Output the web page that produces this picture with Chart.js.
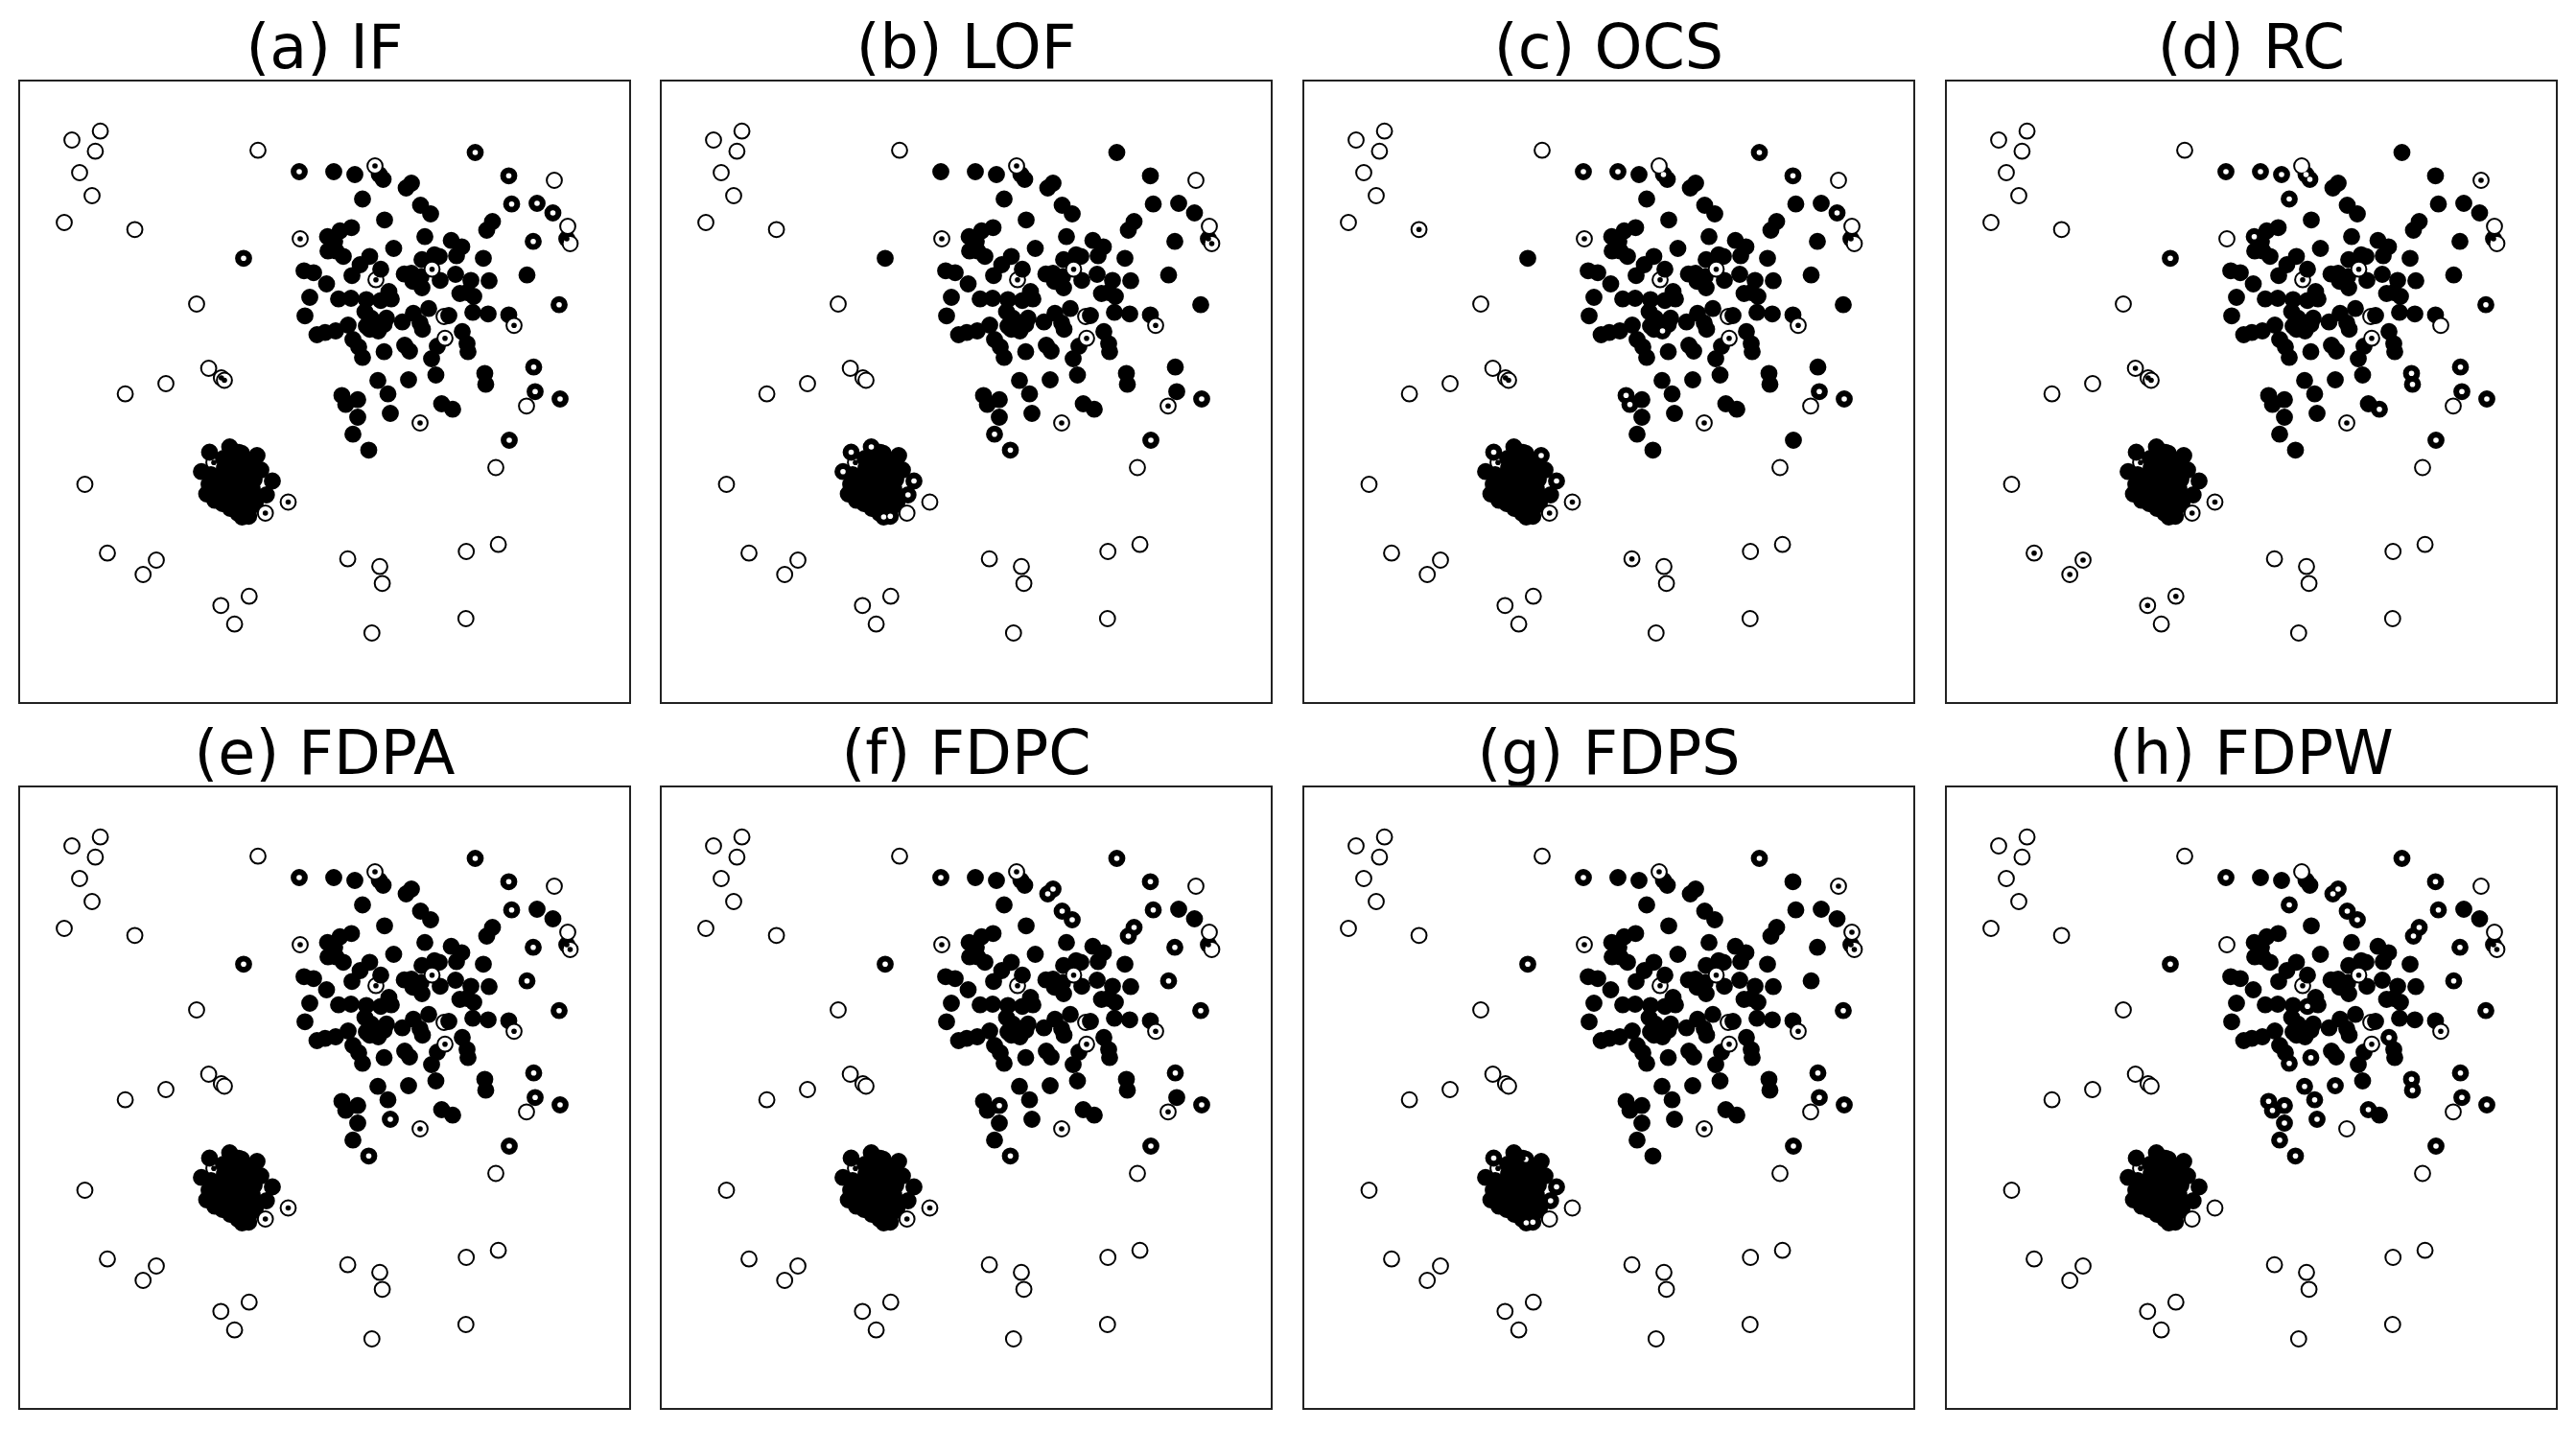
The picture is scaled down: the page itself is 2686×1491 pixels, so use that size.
<!DOCTYPE html>
<html>
<head>
  <title>Outlier detection methods</title>
  <script src="https://cdn.jsdelivr.net/npm/chart.js@4"></script>
  <style>
    body { margin: 0; background: #fff; width: 2686px; height: 1491px; overflow: hidden; }
    canvas { position: absolute; }
  </style>
</head>
<body>
  <script>
    // point positions, same in every panel
    var xs = [372,443,203,
      292,328,350,375.5,379.5,409,403.5,358,418.5,429,493.5,487.5,381,346.5,334.5,321.5,329,322,338,330.5,
      423,390.5,450.5,461.5,456,484,433,438,420,365.5,355.5,347,377,297,307,320.5,401.5,409,414,410.5,420,419,
      439,455,471,490,529.5,536,513.5,510.5,475.5,540,556.5,571,563,303,298,333,346,362,377,385.5,388,
      459.5,474,467,427,448,473,489,510.5,310.5,319,330,343,348,354,358,360.5,362,367,374.5,383,380.5,372,365.5,
      399.5,411,418,420.5,462,467,468,436,430,380.5,402,407,434.5,406,374,384.5,336.5,340.5,353,353,348,364.5,
      387,440.5,452,485.5,486.5,536.5,538,564,511,234,
      198.5,219.5,248,190,264,257.8,232.4,239.3,232,195.5,204,220,229,252,
      213,226,240,214,226,238,200,212,224,235,245,198,208,220,232,243,203,214,226,238,248,212,224,236,246,228,
      371,293,430.5,516,444,418,558,572,574.5,529,497,
      55,84.6,79.4,63,76,47,120.6,249,185,197.6,210.8,214,153,110.6,68.5,280.5,256.7,
      92,143,129.2,210.3,239.8,224.6,342.6,376,378.6,466.2,499.6,465.8,367.8];
    var ys = [207.7,246,398.3,
      95,95,98,98,103,107,112,123.5,130,139,147,156,145.3,153.3,156.7,162.7,167.7,177.7,183.3,177.7,
      162.7,175,166.7,173.3,182.7,185.3,181.7,183.3,186.7,183.3,192,203.3,196.7,198.3,200.3,212,201.7,201,206,209.3,216,204.3,
      208.3,202,208.3,208.7,202.7,167.7,128.7,99.3,75,128,138,165,233.7,226,245.3,227.7,227,228.3,229.3,220,227.7,
      222,225,221,237.7,245,241.7,243.3,244.3,265,262.7,261,255,270,277.7,288.7,241,256,247.7,261,247.7,254.3,252.7,259.3,
      251.7,242.7,252.7,259.3,261.7,274.3,282.7,277,290,282.7,276,282,307,312,312.7,326.7,328.3,337.7,332.7,351,368.7,385.3,
      347,337,342.7,305.3,316.7,298.7,324.3,332,375,185.3,
      387.5,382,391,407.7,417.5,432,455,454.3,388.7,431,437.7,446,387.7,406,
      394,396,398,404,406,408,411,413,416,417,416,421,422,426,427,426,430,434,436,436,435,441,444,445,442,451,
      89,165,196.7,255.3,268.7,357,104,152,170,339.3,403.5,
      62,52.7,73.7,96,120,148,155.3,72.7,233,300,310,312.5,316,326.7,421,439.5,451,
      492.7,500,515,547.3,537.7,566.7,498.7,506.7,524.3,491,483.7,561,576];

    // true outliers: indices into xs/ys
    var outliers = [0,1,2];
    for (var n = 161; n < xs.length; n++) outliers.push(n);

    var methods = ["(a) IF", "(b) LOF", "(c) OCS", "(d) RC", "(e) FDPA", "(f) FDPC", "(g) FDPS", "(h) FDPW"];

    // outliers each method did not flag
    var missedIF   = [0,1,2,161,162,163,164,165,166,182,183,187,188];
    var missedLOF  = [0,1,2,161,162,163,164,165,166,169,170];
    var missedOCS  = [0,1,2,162,163,164,165,166,178,182,183,187,188,195];
    var missedRC   = [0,1,2,163,165,166,167,181,182,183,187,188,189,190,191,192,193];
    var missedFDPA = [0,1,2,161,162,163,164,165,166,169,187,188];
    var missedFDPC = [0,1,2,161,162,163,164,165,166,170,187,188];
    var missedFDPS = [0,1,2,161,162,163,164,165,166,167,168,169];
    var missedFDPW = [0,1,2,163,164,165,169];

    // normal points each method wrongly flagged
    var falseIF   = [3,50,51,52,53,54,55,57,116,117,118,119,120];
    var falseLOF  = [109,110,118,119,121,122,124,125,126,127,128];
    var falseOCS  = [3,4,6,52,53,55,84,105,106,117,118,121,123,125];
    var falseRC   = [3,4,5,6,7,10,18,57,113,114,115,116,117,118,119,120];
    var falseFDPA = [3,49,50,51,52,53,57,110,111,116,117,118,119,120];
    var falseFDPC = [3,8,9,11,12,13,14,49,50,51,52,53,57,107,110,116,118,119,120];
    var falseFDPS = [3,53,57,116,117,118,119,120,121,125,126,127,128,129];
    var falseFDPW = [3,8,9,10,11,12,13,14,49,50,51,52,53,57,63,80,93,98,102,103,104,105,106,107,108,109,110,111,112,114,115,116,117,118,119,120];

    var missed = [missedIF, missedLOF, missedOCS, missedRC, missedFDPA, missedFDPC, missedFDPS, missedFDPW];
    var falseAlarm = [falseIF, falseLOF, falseOCS, falseRC, falseFDPA, falseFDPC, falseFDPS, falseFDPW];

    var panelLeft = [19.5, 689, 1358.5, 2028.5];
    var rowTop = [0, 736];

    var frame = {
      id: "frame",
      afterDraw: function(chart) {
        var a = chart.chartArea, c = chart.ctx;
        c.save();
        c.strokeStyle = "#222";
        c.lineWidth = 2;
        c.strokeRect(a.left, a.top, a.right - a.left, a.bottom - a.top);
        c.restore();
      }
    };

    function drawPanel(k) {
      var canvas = document.createElement("canvas");
      canvas.width = 643;
      canvas.height = 737;
      canvas.style.left = (panelLeft[k % 4] - 3) + "px";
      canvas.style.top = rowTop[k < 4 ? 0 : 1] + "px";
      document.body.appendChild(canvas);

      var pts = [], outerColor = [], innerColor = [];
      for (var i = 0; i < xs.length; i++) {
        var isOut = outliers.indexOf(i) >= 0;
        var white = isOut ? missed[k].indexOf(i) < 0 : falseAlarm[k].indexOf(i) >= 0;
        pts.push({ x: xs[i], y: ys[i] });
        outerColor.push(isOut ? "#fff" : "#000");
        innerColor.push(white ? "#fff" : "#000");
      }

      new Chart(canvas, {
        type: "scatter",
        plugins: [frame],
        data: {
          datasets: [
            { data: pts, pointRadius: 2.8, pointBorderWidth: 0, pointBackgroundColor: innerColor },
            { data: pts, pointRadius: 7.9, pointBorderWidth: 2, pointBorderColor: "#000", pointBackgroundColor: outerColor }
          ]
        },
        options: {
          responsive: false,
          animation: false,
          devicePixelRatio: 1,
          layout: { autoPadding: false, padding: { left: 3, right: 3, bottom: 4 } },
          scales: {
            x: { display: false, min: 0, max: 637 },
            y: { display: false, min: 0, max: 649, reverse: true }
          },
          plugins: {
            legend: { display: false },
            tooltip: { enabled: false },
            title: {
              display: true,
              text: methods[k],
              color: "#000",
              font: { family: "DejaVu Sans", size: 63.5, weight: "normal", lineHeight: 0.8 },
              padding: { top: 29.5, bottom: 3.7 }
            }
          }
        }
      });
    }

    for (var k = 0; k < methods.length; k++) drawPanel(k);
  </script>
</body>
</html>
